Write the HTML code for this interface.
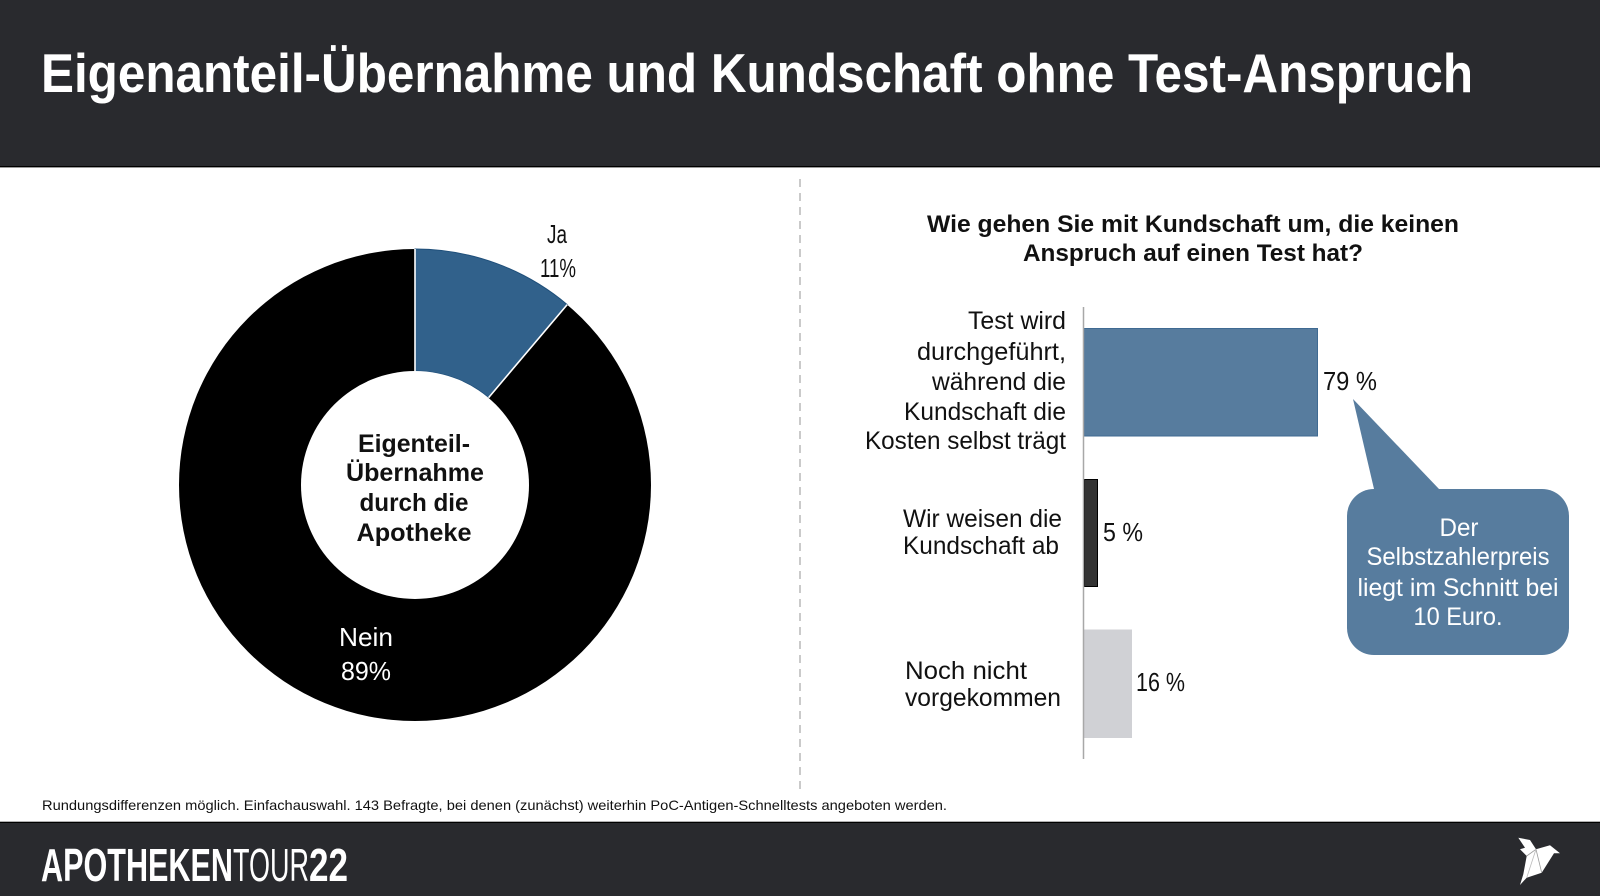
<!DOCTYPE html>
<html><head><meta charset="utf-8"><style>
html,body{margin:0;padding:0;background:#fff;}
svg{display:block;}
text{font-family:"Liberation Sans",sans-serif;}
</style></head><body>
<svg width="1600" height="896" viewBox="0 0 1600 896" xmlns="http://www.w3.org/2000/svg">
<rect x="0" y="0" width="1600" height="896" fill="#ffffff"/>
<!-- header -->
<rect x="0" y="0" width="1600" height="167" fill="#292a2e"/>
<rect x="0" y="166" width="1600" height="1" fill="#000"/>
<rect x="0" y="167" width="1600" height="1" fill="#9a9a9a"/>
<text x="41" y="92" font-size="55" font-weight="bold" fill="#ffffff" textLength="1432" lengthAdjust="spacingAndGlyphs">Eigenanteil-Übernahme und Kundschaft ohne Test-Anspruch</text>

<!-- dashed divider -->
<line x1="800" y1="179" x2="800" y2="791" stroke="#b8b8b8" stroke-width="1.5" stroke-dasharray="8 6"/>

<!-- donut -->
<g>
<circle cx="415" cy="485" r="236" fill="#000"/>
<path d="M415,249 A236,236 0 0 1 567.2,304.6 L488.6,397.6 A114,114 0 0 0 415,371 Z" fill="#31618b" stroke="#1f4f7a" stroke-width="1"/>
<line x1="415" y1="249" x2="415" y2="371" stroke="#ffffff" stroke-width="1.6"/>
<line x1="567.2" y1="304.6" x2="488.6" y2="397.6" stroke="#ffffff" stroke-width="1.6"/>
<circle cx="415" cy="485" r="114" fill="#ffffff"/>
</g>
<g font-weight="bold" font-size="25" fill="#111" text-anchor="middle">
<text x="414" y="452" textLength="112" lengthAdjust="spacingAndGlyphs">Eigenteil-</text>
<text x="415" y="481" textLength="138" lengthAdjust="spacingAndGlyphs">Übernahme</text>
<text x="414" y="511" textLength="109" lengthAdjust="spacingAndGlyphs">durch die</text>
<text x="414" y="541" textLength="115" lengthAdjust="spacingAndGlyphs">Apotheke</text>
</g>
<g font-size="26" fill="#111" text-anchor="middle">
<text x="557" y="243" textLength="20" lengthAdjust="spacingAndGlyphs">Ja</text>
<text x="558" y="277" textLength="36" lengthAdjust="spacingAndGlyphs">11%</text>
</g>
<g font-size="26" fill="#ffffff" text-anchor="middle">
<text x="366" y="646" textLength="54" lengthAdjust="spacingAndGlyphs">Nein</text>
<text x="366" y="680" textLength="50" lengthAdjust="spacingAndGlyphs">89%</text>
</g>

<!-- right chart title -->
<g font-weight="bold" font-size="24" fill="#111">
<text x="927" y="232" textLength="532" lengthAdjust="spacingAndGlyphs">Wie gehen Sie mit Kundschaft um, die keinen</text>
<text x="1023" y="261" textLength="340" lengthAdjust="spacingAndGlyphs">Anspruch auf einen Test hat?</text>
</g>

<!-- bars -->
<rect x="1084" y="328.5" width="233.5" height="107.5" fill="#577c9e" stroke="#3f6a92" stroke-width="1"/>
<rect x="1084.5" y="479.5" width="13" height="107" fill="#333333" stroke="#000" stroke-width="1"/>
<rect x="1084" y="629.5" width="48" height="108.5" fill="#d0d1d5"/>
<line x1="1083.5" y1="307" x2="1083.5" y2="759" stroke="#a8a8a8" stroke-width="1.5"/>

<!-- category labels -->
<g font-size="25" fill="#111" text-anchor="end">
<text x="1066" y="329" textLength="98" lengthAdjust="spacingAndGlyphs">Test wird</text>
<text x="1066" y="360" textLength="149" lengthAdjust="spacingAndGlyphs">durchgeführt,</text>
<text x="1066" y="390" textLength="134" lengthAdjust="spacingAndGlyphs">während die</text>
<text x="1066" y="420" textLength="162" lengthAdjust="spacingAndGlyphs">Kundschaft die</text>
<text x="1066" y="449" textLength="201" lengthAdjust="spacingAndGlyphs">Kosten selbst trägt</text>
</g>
<g font-size="25" fill="#111">
<text x="903" y="527" textLength="159" lengthAdjust="spacingAndGlyphs">Wir weisen die</text>
<text x="903" y="554" textLength="156" lengthAdjust="spacingAndGlyphs">Kundschaft ab</text>
<text x="905" y="679" textLength="122" lengthAdjust="spacingAndGlyphs">Noch nicht</text>
<text x="905" y="706" textLength="156" lengthAdjust="spacingAndGlyphs">vorgekommen</text>
</g>
<g font-size="26" fill="#111">
<text x="1323" y="390" textLength="54" lengthAdjust="spacingAndGlyphs">79 %</text>
<text x="1103" y="541" textLength="40" lengthAdjust="spacingAndGlyphs">5 %</text>
<text x="1136" y="691" textLength="49" lengthAdjust="spacingAndGlyphs">16 %</text>
</g>

<!-- callout -->
<path d="M1374,489 L1353,399 L1439,489 Z" fill="#577c9e"/>
<rect x="1347" y="489" width="222" height="166" rx="27" ry="27" fill="#577c9e"/>
<g font-size="25" fill="#ffffff" text-anchor="middle">
<text x="1459" y="536" textLength="39" lengthAdjust="spacingAndGlyphs">Der</text>
<text x="1458" y="565" textLength="183" lengthAdjust="spacingAndGlyphs">Selbstzahlerpreis</text>
<text x="1458" y="596" textLength="201" lengthAdjust="spacingAndGlyphs">liegt im Schnitt bei</text>
<text x="1458" y="625" textLength="89" lengthAdjust="spacingAndGlyphs">10 Euro.</text>
</g>

<!-- footnote -->
<text x="42" y="810" font-size="14" fill="#111" textLength="905" lengthAdjust="spacingAndGlyphs">Rundungsdifferenzen möglich. Einfachauswahl. 143 Befragte, bei denen (zunächst) weiterhin PoC-Antigen-Schnelltests angeboten werden.</text>

<!-- footer -->
<rect x="0" y="821" width="1600" height="75" fill="#292a2e"/>
<rect x="0" y="821" width="1600" height="1" fill="#b0b0b0"/>
<rect x="0" y="822" width="1600" height="1" fill="#000"/>
<text y="881" font-size="46" fill="#ffffff">
<tspan x="41" font-weight="bold" textLength="192" lengthAdjust="spacingAndGlyphs">APOTHEKEN</tspan><tspan x="233" textLength="76" lengthAdjust="spacingAndGlyphs">TOUR</tspan><tspan x="309" font-weight="bold" textLength="39" lengthAdjust="spacingAndGlyphs">22</tspan>
</text>
<!-- bird logo -->
<polygon points="1518.3,837.7 1530,840 1536,849.3 1550,845.3 1560,853.3 1554,853.3 1541.7,872.7 1526.7,877.7 1520,885 1523.3,874.3 1526.7,856 1520,849.3 1525,847.7" fill="#ffffff"/>
<polyline points="1526.7,856 1536,849.3 1541.7,872.7" fill="none" stroke="#9a9a9a" stroke-width="0.8"/>
<line x1="1536" y1="849.3" x2="1526.7" y2="877.7" stroke="#bbbbbb" stroke-width="0.8"/>
</svg>
</body></html>
